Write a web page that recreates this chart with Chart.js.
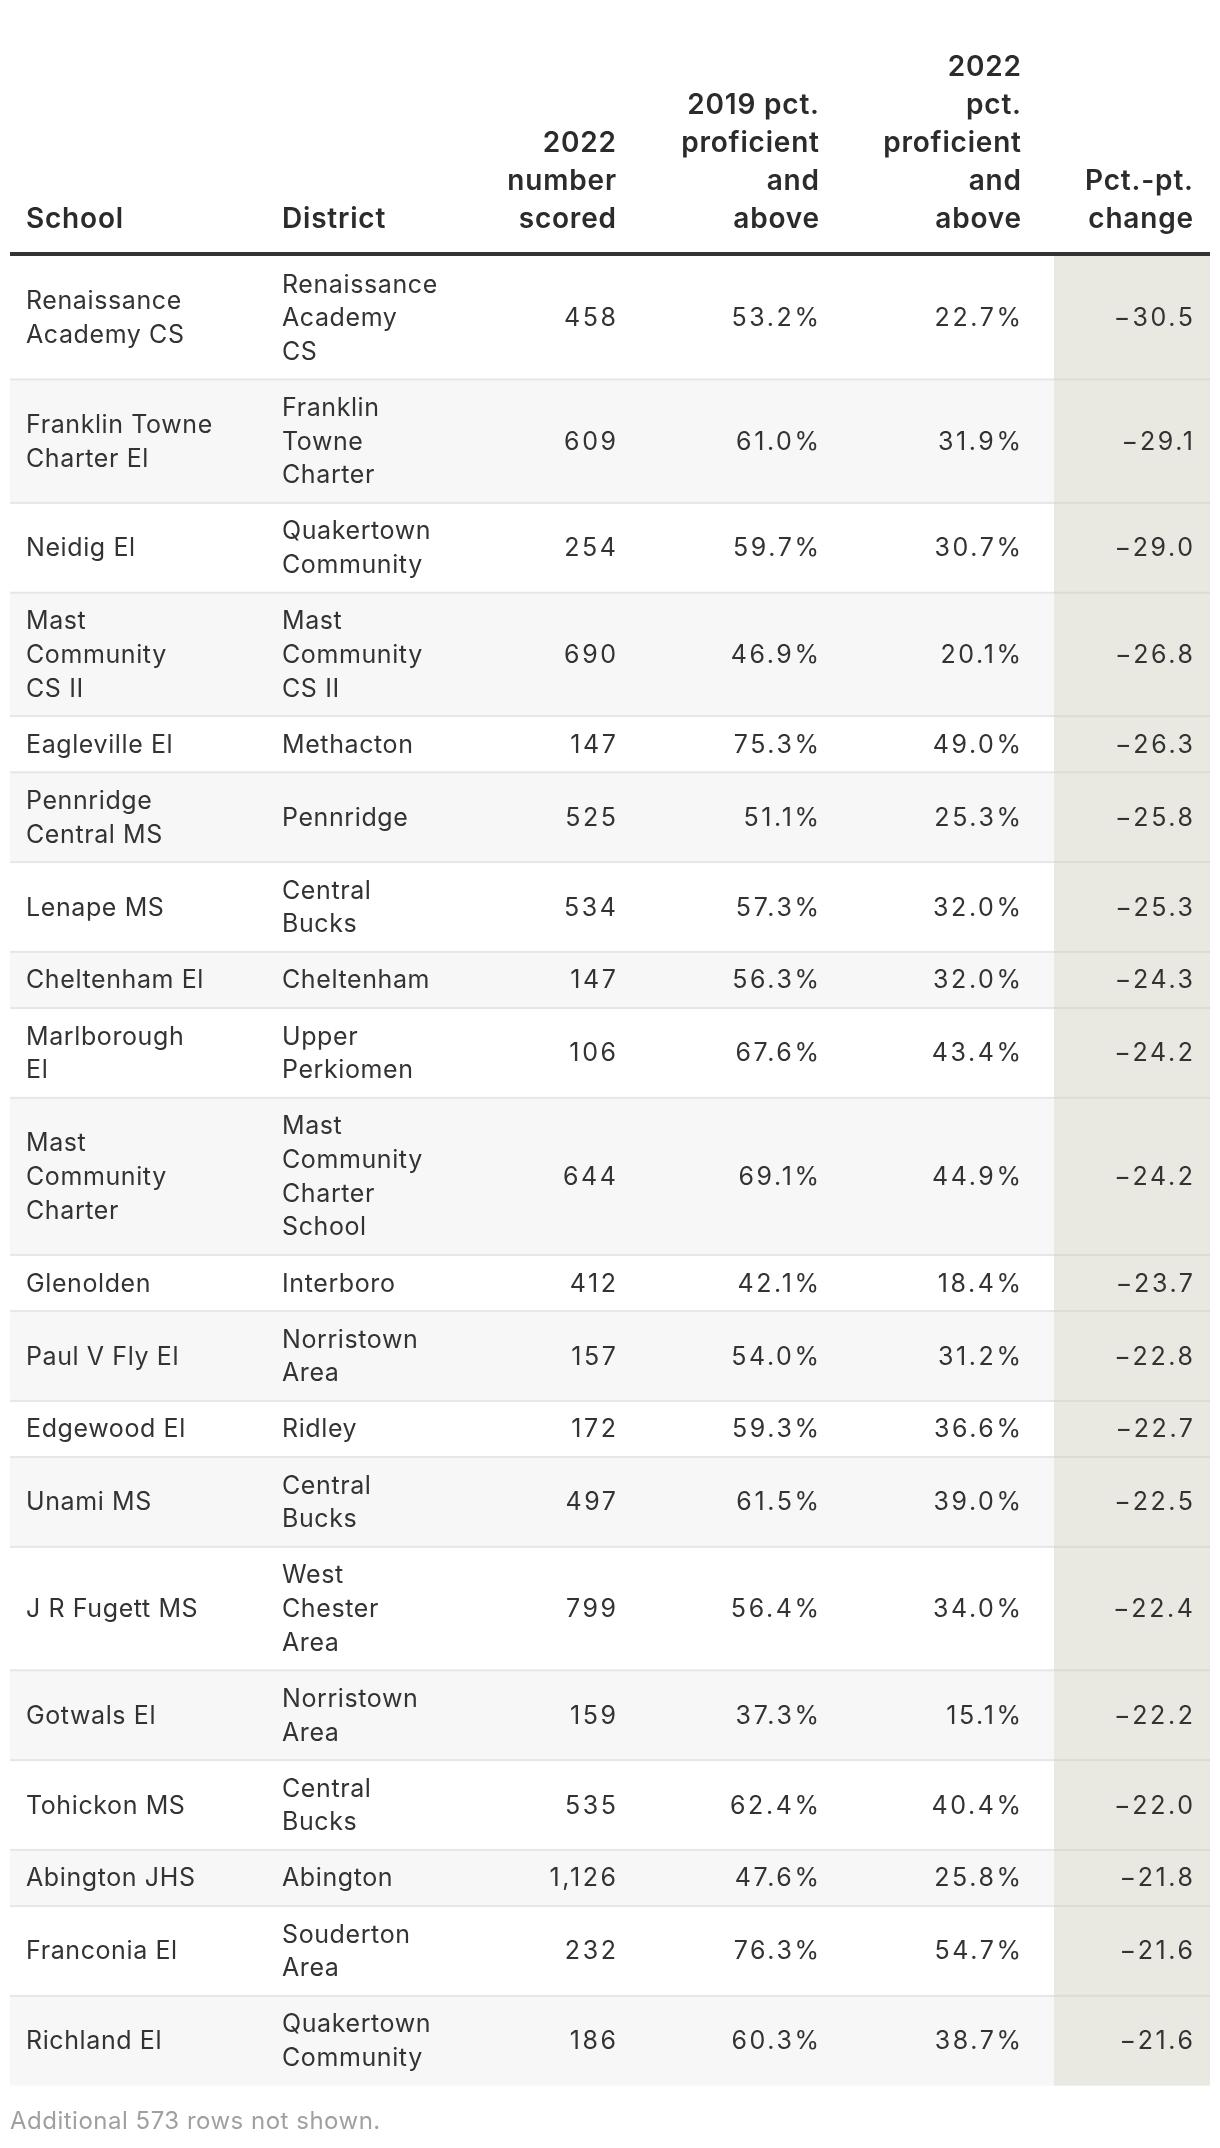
<!DOCTYPE html>
<html>
<head>
<meta charset="utf-8">
<script src="https://cdn.jsdelivr.net/npm/chart.js@4.4.1/dist/chart.umd.min.js"></script>
<style>
  html, body { margin: 0; padding: 0; background: #ffffff; }
  #wrap { width: 1220px; height: 2148px; position: relative; }
</style>
</head>
<body>
<div id="wrap"><canvas id="table" width="1220" height="2148"></canvas></div>
<script>
// ---------- DATA ----------
const schools = [
  "Renaissance\nAcademy CS", "Franklin Towne\nCharter El", "Neidig El", "Mast\nCommunity\nCS II",
  "Eagleville El", "Pennridge\nCentral MS", "Lenape MS", "Cheltenham El", "Marlborough\nEl",
  "Mast\nCommunity\nCharter", "Glenolden", "Paul V Fly El", "Edgewood El", "Unami MS",
  "J R Fugett MS", "Gotwals El", "Tohickon MS", "Abington JHS", "Franconia El", "Richland El"
];
const districts = [
  "Renaissance\nAcademy\nCS", "Franklin\nTowne\nCharter", "Quakertown\nCommunity", "Mast\nCommunity\nCS II",
  "Methacton", "Pennridge", "Central\nBucks", "Cheltenham", "Upper\nPerkiomen",
  "Mast\nCommunity\nCharter\nSchool", "Interboro", "Norristown\nArea", "Ridley", "Central\nBucks",
  "West\nChester\nArea", "Norristown\nArea", "Central\nBucks", "Abington", "Souderton\nArea", "Quakertown\nCommunity"
];
const scored2022 = [458, 609, 254, 690, 147, 525, 534, 147, 106, 644, 412, 157, 172, 497, 799, 159, 535, 1126, 232, 186];
const pct2019 = [53.2, 61.0, 59.7, 46.9, 75.3, 51.1, 57.3, 56.3, 67.6, 69.1, 42.1, 54.0, 59.3, 61.5, 56.4, 37.3, 62.4, 47.6, 76.3, 60.3];
const pct2022 = [22.7, 31.9, 30.7, 20.1, 49.0, 25.3, 32.0, 32.0, 43.4, 44.9, 18.4, 31.2, 36.6, 39.0, 34.0, 15.1, 40.4, 25.8, 54.7, 38.7];
const ptChange = [-30.5, -29.1, -29.0, -26.8, -26.3, -25.8, -25.3, -24.3, -24.2, -24.2, -23.7, -22.8, -22.7, -22.5, -22.4, -22.2, -22.0, -21.8, -21.6, -21.6];
const headers = ["School", "District", "2022\nnumber\nscored", "2019 pct.\nproficient\nand\nabove", "2022\npct.\nproficient\nand\nabove", "Pct.-pt.\nchange"];
const footnote = "Additional 573 rows not shown.";

// ---------- LAYOUT / STYLE ----------
const L = {
  W: 1220, H: 2148,
  left: 10, right: 1210,
  headBase: 228, headLine: 38,
  ruleTop: 252, ruleH: 4, bodyTop: 256,
  pad: 22.5, line: 33.65,
  colX: [26, 282, 616, 819, 1021, 1193],
  colAlign: ['left', 'left', 'right', 'right', 'right', 'right'],
  shadeX: 1054,
  footY: 2122
};
const C = {
  text: '#333333', head: '#2b2b2b', rule: '#333333', stripe: '#f7f7f7',
  sep: '#e6e6e6', shade: '#e9e9e2', shadeSep: '#dcdcd4', foot: '#a0a0a0'
};
const FONT = 'Inter, "Noto Sans", sans-serif';
const F = {
  head: '600 28px ' + FONT, headSp: 0.8,
  body: '400 25px ' + FONT, bodySp: 0.6, numSp: 2.6,
  foot: '400 24px ' + FONT, footSp: 0.5
};

function fmtInt(v) { return v.toLocaleString('en-US'); }
function fmtPct(v) { return v.toFixed(1) + '%'; }
function fmtChg(v) { return (v < 0 ? '\u2212' : '') + Math.abs(v).toFixed(1); }

function drawText(ctx, t, x, y, align, sp) {
  ctx.letterSpacing = sp + 'px';
  ctx.textAlign = align;
  ctx.fillText(t, align === 'right' ? x + sp : x, y);
}

const tablePlugin = {
  id: 'tablePlugin',
  afterDraw(chart) {
    const ctx = chart.ctx;
    const xs = chart.scales.x, ys = chart.scales.y;
    const X = v => xs.getPixelForValue(v);
    const Y = v => ys.getPixelForValue(v);

    const rows = schools.map((s, i) => {
      const a = s.split('\n'), b = districts[i].split('\n');
      return { school: a, district: b, n: Math.max(a.length, b.length) };
    });
    let y = L.bodyTop;
    rows.forEach(r => { r.top = y; r.h = L.pad + r.n * L.line; y += r.h; r.bottom = y; });
    const bodyBottom = y;

    ctx.save();
    rows.forEach((r, i) => {
      if (i % 2 === 1) {
        ctx.fillStyle = C.stripe;
        ctx.fillRect(X(L.left), Y(r.top), X(L.right) - X(L.left), Y(r.bottom) - Y(r.top));
      }
    });
    ctx.fillStyle = C.shade;
    ctx.fillRect(X(L.shadeX), Y(L.bodyTop), X(L.right) - X(L.shadeX), Y(bodyBottom) - Y(L.bodyTop));
    rows.forEach((r, i) => {
      if (i === 0) return;
      ctx.fillStyle = C.sep;
      ctx.fillRect(X(L.left), Y(r.top) - 1, X(L.shadeX) - X(L.left), 2);
      ctx.fillStyle = C.shadeSep;
      ctx.fillRect(X(L.shadeX), Y(r.top) - 1, X(L.right) - X(L.shadeX), 2);
    });
    ctx.fillStyle = C.rule;
    ctx.fillRect(X(L.left), Y(L.ruleTop), X(L.right) - X(L.left), L.ruleH);

    // header
    ctx.font = F.head;
    ctx.fillStyle = C.head;
    ctx.textBaseline = 'alphabetic';
    headers.forEach((h, c) => {
      const parts = h.split('\n');
      parts.forEach((p, k) => {
        const base = L.headBase - (parts.length - 1 - k) * L.headLine;
        drawText(ctx, p, X(L.colX[c]), Y(base), L.colAlign[c], F.headSp);
      });
    });

    // body
    ctx.font = F.body;
    ctx.fillStyle = C.text;
    ctx.textBaseline = 'middle';
    rows.forEach((r, i) => {
      const mid = (r.top + r.bottom) / 2;
      const cells = [r.school, r.district, [fmtInt(scored2022[i])], [fmtPct(pct2019[i])], [fmtPct(pct2022[i])], [fmtChg(ptChange[i])]];
      cells.forEach((lines, c) => {
        const sp = c < 2 ? F.bodySp : F.numSp;
        lines.forEach((t, k) => {
          const cy = mid + (k - (lines.length - 1) / 2) * L.line;
          drawText(ctx, t, X(L.colX[c]), Y(cy) + 1, L.colAlign[c], sp);
        });
      });
    });

    // footnote
    ctx.font = F.foot;
    ctx.fillStyle = C.foot;
    drawText(ctx, footnote, X(L.left), Y(L.footY), 'left', F.footSp);
    ctx.restore();
  }
};

new Chart(document.getElementById('table'), {
  type: 'scatter',
  data: { datasets: [{ data: [], showLine: false }] },
  options: {
    responsive: false,
    animation: false,
    events: [],
    layout: { padding: 0 },
    plugins: { legend: { display: false }, tooltip: { enabled: false } },
    scales: {
      x: { type: 'linear', min: 0, max: L.W, display: false },
      y: { type: 'linear', min: 0, max: L.H, reverse: true, display: false }
    }
  },
  plugins: [tablePlugin]
});
</script>
</body>
</html>
